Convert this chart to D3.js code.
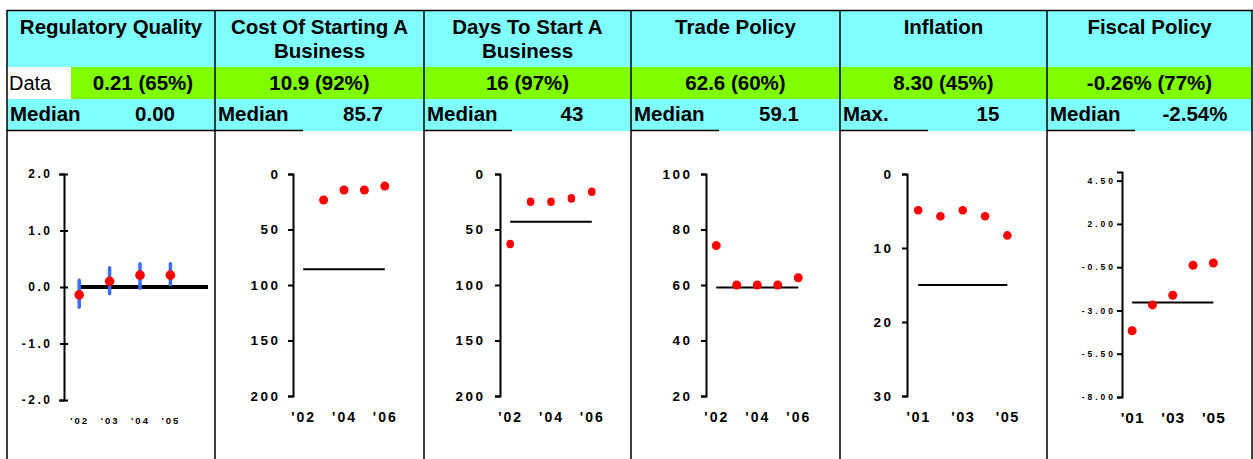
<!DOCTYPE html>
<html><head><meta charset="utf-8">
<script src="https://cdn.jsdelivr.net/npm/d3@7"></script>
<style>
body{margin:0;background:#fff}
svg{display:block}
text{font-family:"Liberation Sans",Arial,Helvetica,sans-serif}
</style>
</head><body>
<svg id="c" width="1253" height="459"></svg>
<script>
// ---------- DATA ----------
const titles = [["Regulatory Quality"],["Cost Of Starting A","Business"],["Days To Start A","Business"],["Trade Policy"],["Inflation"],["Fiscal Policy"]];
const dataTexts = ["0.21 (65%)","10.9 (92%)","16 (97%)","62.6 (60%)","8.30 (45%)","-0.26% (77%)"];
const refLabels = ["Median","Median","Median","Median","Max.","Median"];
const refTexts = ["0.00","85.7","43","59.1","15","-2.54%"];
const refValues = [0.0, 85.7, 43, 59.1, 15, -2.54];

const rqYears = [2002,2003,2004,2005];
const rqValues = [-0.14,0.10,0.21,0.21];
const rqLow = [-0.36,-0.12,-0.02,0.04];
const rqHigh = [0.12,0.34,0.41,0.41];

const costYears = [2003,2004,2005,2006];
const costValues = [23.4,14.4,14.4,10.9];

const daysYears = [2002,2003,2004,2005,2006];
const daysValues = [63,25,25,22,16];

const tradeYears = [2002,2003,2004,2005,2006];
const tradeValues = [74.2,60,60,60,62.6];

const inflYears = [2001,2002,2003,2004,2005];
const inflValues = [4.9,5.7,4.9,5.7,8.3];

const fiscYears = [2001,2002,2003,2004,2005];
const fiscValues = [-4.17,-2.68,-2.12,-0.39,-0.26];

const rqYTicks = [-2,-1,0,1,2];            const rqYLabels = ["-2.0","-1.0","0.0","1.0","2.0"];
const costYTicks = [0,50,100,150,200];     const costYLabels = ["0","50","100","150","200"];
const daysYTicks = [0,50,100,150,200];     const daysYLabels = ["0","50","100","150","200"];
const tradeYTicks = [20,40,60,80,100];     const tradeYLabels = ["20","40","60","80","100"];
const inflYTicks = [0,10,20,30];           const inflYLabels = ["0","10","20","30"];
const fiscYTicks = [-8,-5.5,-3,-0.5,2,4.5];const fiscYLabels = ["-8.00","-5.50","-3.00","-0.50","2.00","4.50"];

const rqXTicks = [2002,2003,2004,2005];    const rqXLabels = ["'02","'03","'04","'05"];
const costXTicks = [2002,2004,2006];       const costXLabels = ["'02","'04","'06"];
const daysXTicks = [2002,2004,2006];       const daysXLabels = ["'02","'04","'06"];
const tradeXTicks = [2002,2004,2006];      const tradeXLabels = ["'02","'04","'06"];
const inflXTicks = [2001,2003,2005];       const inflXLabels = ["'01","'03","'05"];
const fiscXTicks = [2001,2003,2005];       const fiscXLabels = ["'01","'03","'05"];

// ---------- LAYOUT ----------
const W = 1253, H = 459;
const colX = [7,215,424,631,840,1047,1252];
const CYAN = "#80ffff", GREEN = "#80ff00";
const svg = d3.select("#c");

for (let i=0;i<6;i++){
  const x0=colX[i], x1=colX[i+1];
  svg.append("rect").attr("x",x0).attr("y",10).attr("width",x1-x0).attr("height",57).attr("fill",CYAN);
  svg.append("rect").attr("x",x0).attr("y",67).attr("width",x1-x0).attr("height",32).attr("fill",GREEN);
  svg.append("rect").attr("x",x0).attr("y",99).attr("width",x1-x0).attr("height",32).attr("fill",CYAN);
}
svg.append("rect").attr("x",7).attr("y",67).attr("width",64).attr("height",32).attr("fill","#fff");

titles.forEach((t,i)=>{
  const cx=(colX[i]+colX[i+1])/2;
  t.forEach((line,k)=>{
    svg.append("text").attr("x",cx).attr("y",34+k*24).attr("text-anchor","middle")
      .attr("font-size",20.5).attr("font-weight","bold").text(line);
  });
});
svg.append("text").attr("x",9).attr("y",90).attr("font-size",20).text("Data");
dataTexts.forEach((t,i)=>{
  const cx = i===0 ? (71+colX[1])/2 : (colX[i]+colX[i+1])/2;
  svg.append("text").attr("x",cx).attr("y",90).attr("text-anchor","middle")
    .attr("font-size",20.5).attr("font-weight","bold").text(t);
});
refLabels.forEach((t,i)=>{
  svg.append("text").attr("x",colX[i]+3).attr("y",121).attr("font-size",20.5).attr("font-weight","bold").text(t);
  svg.append("text").attr("x",colX[i]+148).attr("y",121).attr("text-anchor","middle")
    .attr("font-size",20.5).attr("font-weight","bold").text(refTexts[i]);
});

svg.append("line").attr("x1",7).attr("x2",W).attr("y1",10.5).attr("y2",10.5).attr("stroke","#000").attr("stroke-width",1.5);
colX.forEach(x=>{
  svg.append("line").attr("x1",x).attr("x2",x).attr("y1",10).attr("y2",H).attr("stroke","#000").attr("stroke-width",1.5);
});
svg.append("line").attr("x1",7).attr("x2",colX[1]+88).attr("y1",130.5).attr("y2",130.5).attr("stroke","#000").attr("stroke-width",1.5);
for (let i=2;i<6;i++){
  svg.append("line").attr("x1",colX[i]).attr("x2",colX[i]+88).attr("y1",130.5).attr("y2",130.5).attr("stroke","#000").attr("stroke-width",1.5);
}

// ---------- PANELS ----------
const panels = [
  {years:rqYears, vals:rqValues, low:rqLow, high:rqHigh, yDom:[-2,2], yTicks:rqYTicks, yLabels:rqYLabels, xTicks:rqXTicks, xLabels:rqXLabels,
   axisX:64, step:30.4, xStart:2001.5, yRange:[400,174], tFont:12, tLS:2.5, tGap:14, cross:true, xFont:9.5, xLS:2, xBase:424, medW:4, medToEdge:true, rx:4.8, ry:4.8},
  {years:costYears, vals:costValues, yDom:[200,0], yTicks:costYTicks, yLabels:costYLabels, xTicks:costXTicks, xLabels:costXLabels,
   axisX:293, step:20.4, xStart:2001.5, yRange:[396,174], tFont:13.5, tLS:2.5, tGap:15, xFont:14, xLS:2, xBase:422, medW:2, rx:4.5, ry:4.5},
  {years:daysYears, vals:daysValues, yDom:[200,0], yTicks:daysYTicks, yLabels:daysYLabels, xTicks:daysXTicks, xLabels:daysXLabels,
   axisX:500, step:20.4, xStart:2001.5, yRange:[396,174], tFont:13.5, tLS:2.5, tGap:17, xFont:14, xLS:2, xBase:422, medW:2, rx:3.8, ry:4.3},
  {years:tradeYears, vals:tradeValues, yDom:[20,100], yTicks:tradeYTicks, yLabels:tradeYLabels, xTicks:tradeXTicks, xLabels:tradeXLabels,
   axisX:706, step:20.5, xStart:2001.5, yRange:[396,174], tFont:13.5, tLS:2.5, tGap:16, xFont:14, xLS:2, xBase:422, medW:2, rx:4.5, ry:4.5},
  {years:inflYears, vals:inflValues, yDom:[30,0], yTicks:inflYTicks, yLabels:inflYLabels, xTicks:inflXTicks, xLabels:inflXLabels,
   axisX:907, step:22.3, xStart:2000.5, yRange:[396,174], tFont:13.5, tLS:2.5, tGap:16, xFont:14.5, xLS:1.5, xBase:422, medW:2, rx:4.3, ry:4.3},
  {years:fiscYears, vals:fiscValues, yDom:[-8,5], yTicks:fiscYTicks, yLabels:fiscYLabels, xTicks:fiscXTicks, xLabels:fiscXLabels,
   axisX:1122, step:20.3, xStart:2000.5, yRange:[397,172], tFont:8.5, tLS:3, tGap:9, xFont:15.5, xLS:1, xBase:423, medW:2, rx:4.5, ry:4.5}
];

panels.forEach((p,i)=>{
  const nYears = p.xTicks[p.xTicks.length-1] - p.xStart + 0.5;
  const x = d3.scaleLinear().domain([p.xStart, p.xStart+nYears]).range([p.axisX, p.axisX+nYears*p.step]);
  const y = d3.scaleLinear().domain(p.yDom).range(p.yRange);
  const g = svg.append("g");

  const ax = d3.axisLeft(y).tickValues(p.yTicks)
    .tickFormat(d=>p.yLabels[p.yTicks.indexOf(d)])
    .tickSizeOuter(0).tickSize(5).tickPadding(p.tGap-5-p.tLS);
  const ag = g.append("g").attr("transform",`translate(${p.axisX},0)`).call(ax);
  ag.select(".domain").attr("stroke","#000").attr("stroke-width",2);
  ag.selectAll(".tick line").attr("stroke","#000").attr("stroke-width",2);
  if (p.cross) ag.selectAll(".tick line").attr("x1",-4).attr("x2",4);
  ag.selectAll(".tick text").attr("font-size",p.tFont).attr("font-weight","bold")
    .attr("letter-spacing",p.tLS).attr("fill","#000")
    .attr("font-family",'"Liberation Sans",Arial,sans-serif');

  const xa = d3.axisBottom(x).tickValues(p.xTicks)
    .tickFormat(d=>p.xLabels[p.xTicks.indexOf(d)]).tickSize(0).tickPadding(0);
  const xg = g.append("g").attr("transform",`translate(0,${p.xBase})`).call(xa);
  xg.select(".domain").remove();
  xg.selectAll(".tick line").remove();
  xg.selectAll(".tick text").attr("dy",0).attr("y",0).attr("font-size",p.xFont).attr("font-weight","bold")
    .attr("letter-spacing",p.xLS).attr("fill","#000")
    .attr("font-family",'"Liberation Sans",Arial,sans-serif');

  const xEnd = p.medToEdge ? colX[i+1]-7 : x(p.xTicks[p.xTicks.length-1]);
  g.append("line").attr("x1",x(p.xTicks[0])).attr("x2",xEnd)
    .attr("y1",y(refValues[i])).attr("y2",y(refValues[i]))
    .attr("stroke","#000").attr("stroke-width",p.medW);

  if (p.low){
    g.selectAll(".eb").data(p.years).join("line")
      .attr("x1",d=>x(d)).attr("x2",d=>x(d))
      .attr("y1",(d,k)=>y(p.low[k])).attr("y2",(d,k)=>y(p.high[k]))
      .attr("stroke","#3f6cf5").attr("stroke-width",3.5).attr("stroke-linecap","round");
  }
  g.selectAll(".pt").data(p.years).join("ellipse")
    .attr("cx",d=>x(d)).attr("cy",(d,k)=>y(p.vals[k]))
    .attr("rx",p.rx).attr("ry",p.ry).attr("fill","#ff0000");
});
</script>
</body></html>
